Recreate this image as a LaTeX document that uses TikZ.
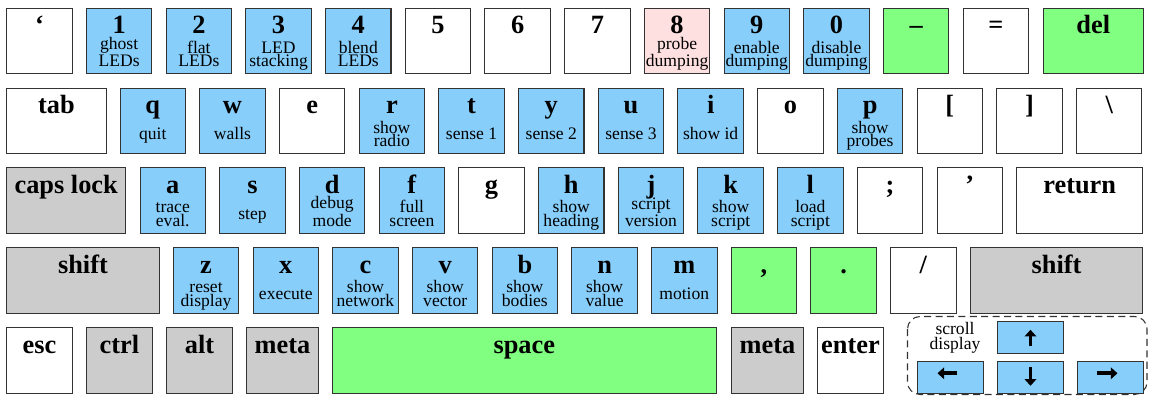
\documentclass[tikz,border=0pt]{standalone}
\usepackage{fontspec}
\setmainfont{Liberation Serif}
\usetikzlibrary{arrows.meta}
\definecolor{keyblue}{RGB}{135,206,250}
\definecolor{keygreen}{RGB}{128,255,128}
\definecolor{keygrey}{RGB}{204,204,204}
\definecolor{keypink}{RGB}{255,224,224}
\newcommand{\keyfont}{\fontsize{15}{15}\selectfont\bfseries}
\newcommand{\notefont}{\fontsize{10}{7.6}\selectfont}
\newcommand{\scrollfont}{\fontsize{10}{8.7}\selectfont}

\begin{document}
\begin{tikzpicture}[x=0.02cm, y=-0.02cm,
  keybox/.style={draw=black!80, line width=0.6pt, anchor=north west, inner sep=0pt, minimum height=1.31cm},
  keylabel/.style={anchor=base, inner sep=0pt, font=\keyfont},
  keynote/.style={anchor=base, inner sep=0pt, align=center, font=\notefont},
  arrowkey/.style={keybox, fill=keyblue, minimum width=1.31cm, minimum height=0.65cm},
  keyarrow/.style={line width=2.2pt, -{Triangle[length=3.8pt,width=6.6pt]}},
  scrollframe/.style={draw=black!80, line width=0.6pt, dash pattern=on 4pt off 2.5pt, rounded corners=0.25cm}]
\useasboundingbox (0,0) rectangle (1151,396);
\foreach \n/\x/\w/\c/\t in {kgrave/6.2/1.31cm/white/‘, k1/85.9/1.31cm/keyblue/1, k2/165.6/1.31cm/keyblue/2,
    k3/245.3/1.31cm/keyblue/3, k4/325.0/1.31cm/keyblue/4, k5/404.7/1.31cm/white/5, k6/484.4/1.31cm/white/6,
    k7/564.1/1.31cm/white/7, k8/643.8/1.31cm/keypink/8, k9/723.5/1.31cm/keyblue/9, k0/803.2/1.31cm/keyblue/0,
    kminus/882.9/1.31cm/keygreen/–, kequal/962.6/1.31cm/white/=, kdel/1043/1.99cm/keygreen/del}
  {\node[keybox, fill=\c, minimum width=\w] (\n) at (\x,7.8) {};
   \node[keylabel] (\n-l) at ([yshift=-0.52cm]\n.north) {\t};}
\foreach \n/\x/\w/\c/\t in {ktab/6.2/1.99cm/white/tab, kq/119.5/1.31cm/keyblue/q, kw/199.2/1.31cm/keyblue/w,
    ke/278.9/1.31cm/white/e, kr/358.6/1.31cm/keyblue/r, kt/438.3/1.31cm/keyblue/t, ky/518.0/1.31cm/keyblue/y,
    ku/597.7/1.31cm/keyblue/u, ki/677.4/1.31cm/keyblue/i, ko/757.1/1.31cm/white/o, kp/836.8/1.31cm/keyblue/p,
    klbrack/916.5/1.31cm/white/[, krbrack/996.2/1.31cm/white/], kbslash/1075.9/1.31cm/white/\textbackslash}
  {\node[keybox, fill=\c, minimum width=\w] (\n) at (\x,87.8) {};
   \node[keylabel] (\n-l) at ([yshift=-0.52cm]\n.north) {\t};}
\foreach \n/\x/\w/\c/\t in {kcaps/6.2/2.38cm/keygrey/caps lock, ka/139.5/1.31cm/keyblue/a, ks/219.2/1.31cm/keyblue/s,
    kd/298.9/1.31cm/keyblue/d, kf/378.6/1.31cm/keyblue/f, kg/458.3/1.31cm/white/g, kh/538.0/1.31cm/keyblue/h,
    kj/617.7/1.31cm/keyblue/j, kk/697.4/1.31cm/keyblue/k, kl/777.1/1.31cm/keyblue/l, ksemi/856.8/1.31cm/white/;,
    kquote/936.5/1.31cm/white/’, kreturn/1016.2/2.52cm/white/return}
  {\node[keybox, fill=\c, minimum width=\w] (\n) at (\x,167.2) {};
   \node[keylabel] (\n-l) at ([yshift=-0.52cm]\n.north) {\t};}
\foreach \n/\x/\w/\c/\t in {klshift/6.2/3.05cm/keygrey/shift, kz/172.8/1.31cm/keyblue/z, kx/252.5/1.31cm/keyblue/x,
    kc/332.2/1.31cm/keyblue/c, kv/411.9/1.31cm/keyblue/v, kb/491.6/1.31cm/keyblue/b, kn/571.3/1.31cm/keyblue/n,
    km/651.0/1.31cm/keyblue/m, kcomma/730.7/1.31cm/keygreen/{,}, kdot/810.4/1.31cm/keygreen/., kslash/890.1/1.31cm/white/{/},
    krshift/969.8/3.45cm/keygrey/shift}
  {\node[keybox, fill=\c, minimum width=\w] (\n) at (\x,247.2) {};
   \node[keylabel] (\n-l) at ([yshift=-0.52cm]\n.north) {\t};}
\foreach \n/\x/\w/\c/\t in {kesc/6.2/1.31cm/white/esc, kctrl/86.2/1.31cm/keygrey/ctrl, kalt/166.2/1.31cm/keygrey/alt,
    klmeta/246.2/1.43cm/keygrey/meta, kspace/331.5/7.69cm/keygreen/space, krmeta/731.2/1.43cm/keygrey/meta,
    kenter/817.2/1.31cm/white/enter}
  {\node[keybox, fill=\c, minimum width=\w] (\n) at (\x,327.2) {};
   \node[keylabel] (\n-l) at ([yshift=-0.52cm]\n.north) {\t};}
\foreach \n/\s in {k1/{ghost\\LEDs}, k2/{flat\\LEDs}, k3/{LED\\stacking}, k4/{blend\\LEDs}, k8/{probe\\dumping},
    k9/{enable\\dumping}, k0/{disable\\dumping}, kr/{show\\radio}, kp/{show\\probes}, ka/{trace\\eval.},
    kd/{debug\\mode}, kf/{full\\screen}, kh/{show\\heading}, kj/{script\\version}, kk/{show\\script},
    kl/{load\\script}, kz/{reset\\display}, kc/{show\\network}, kv/{show\\vector}, kb/{show\\bodies}, kn/{show\\value}}
  \node[keynote] (\n-s) at ([yshift=-1.18cm]\n.north) {\s};
\foreach \n/\s in {kq/quit, kw/walls, kt/sense 1, ky/sense 2, ku/sense 3, ki/show id, ks/step, kx/execute, km/motion}
  \node[keynote] (\n-s) at ([yshift=-1.04cm]\n.north) {\s};
\draw[scrollframe] (907.5,316.5) rectangle (1147,394.5);
\node[anchor=base, inner sep=0pt, align=center, font=\scrollfont] (scroll) at (955,349.3) {scroll\\display};
\node[arrowkey] (kup) at (997.2,320.5) {};
\node[arrowkey] (kleft) at (917.2,360.5) {};
\node[arrowkey] (kdown) at (997.2,360.5) {};
\node[arrowkey] (kright) at (1077.2,360.5) {};
\draw[keyarrow] ([yshift=-0.18cm]kup.center) -- ([yshift=0.15cm]kup.center);
\draw[keyarrow] ([yshift=0.2cm]kdown.center) -- ([yshift=-0.17cm]kdown.center);
\draw[keyarrow] ([xshift=0.14cm,yshift=0.08cm]kleft.center) -- ([xshift=-0.26cm,yshift=0.08cm]kleft.center);
\draw[keyarrow] ([xshift=-0.26cm,yshift=0.08cm]kright.center) -- ([xshift=0.14cm,yshift=0.08cm]kright.center);
\end{tikzpicture}
\end{document}
